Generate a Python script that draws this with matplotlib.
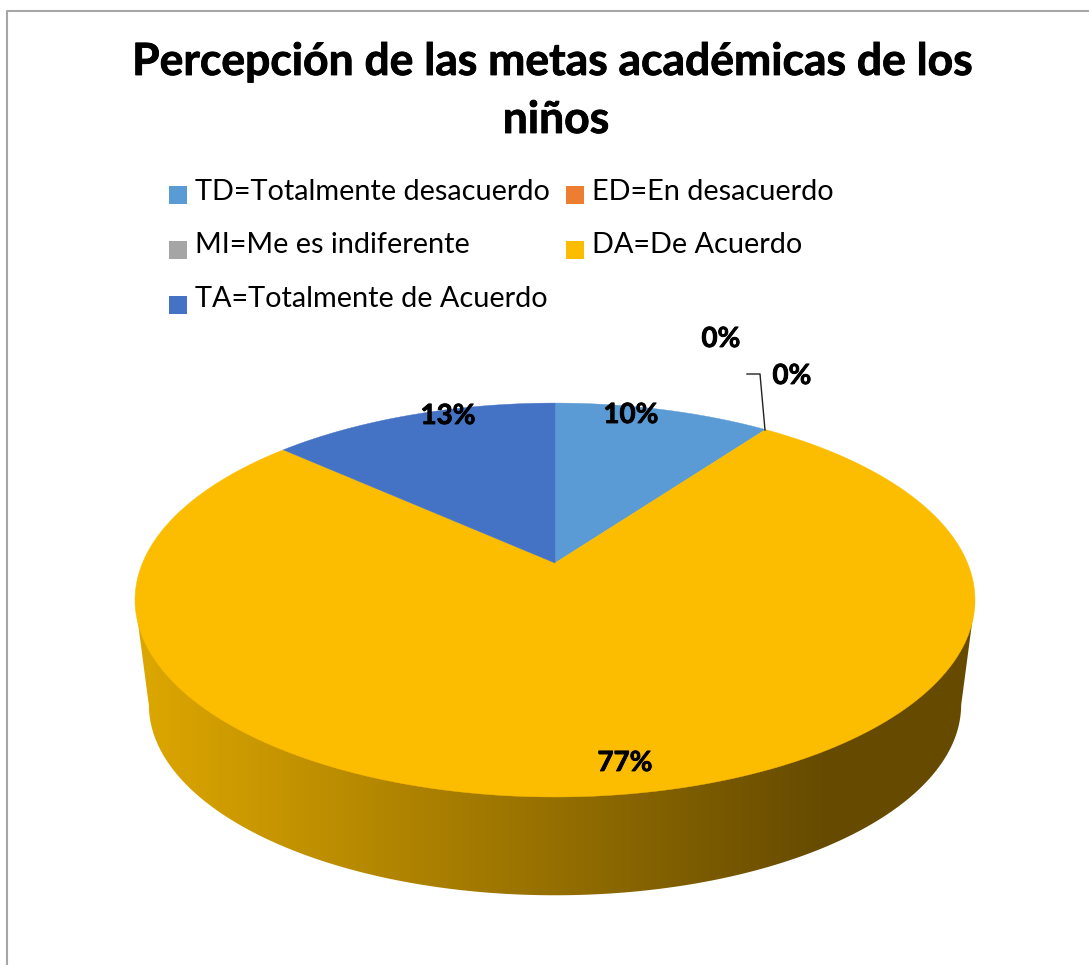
import numpy as np
from matplotlib import pyplot as plt
from matplotlib import patheffects
from matplotlib.colors import LinearSegmentedColormap
from matplotlib.patches import Rectangle

plt.rcParams['font.family'] = ['Lato', 'DejaVu Sans']

title_lines = ['Percepción de las metas académicas de los', 'niños']
categories = ['TD=Totalmente desacuerdo', 'ED=En desacuerdo', 'MI=Me es indiferente',
              'DA=De Acuerdo', 'TA=Totalmente de Acuerdo']
values = [10, 0, 0, 76.7, 13.3]
value_labels = ['10%', '0%', '0%', '77%', '13%']
colors = ['#5B9BD5', '#ED7D31', '#A5A5A5', '#FCBD00', '#4472C4']


def project(theta, scale=1.0, center_y=563.0):
    """Perspective view of the pie disc, theta is clockwise from 12 o'clock"""
    k = 0.188
    u = np.sin(theta)
    v = np.cos(theta)
    x = 555 + scale * 412.5 * u / (1 + k * v)
    y = center_y - scale * 190 * v / (1 + k * v)
    return x, y


fig = plt.figure(figsize=(10.89, 9.65), dpi=100)
ax = fig.add_axes([0, 0, 1, 1])
ax.set_xlim(0, 1089)
ax.set_ylim(965, 0)
ax.axis('off')

# chart frame, only left and top are inside the crop
ax.plot([6.5, 6.5, 1089], [965, 11, 11], color='#A6A6A6', lw=1.5)

# side wall with the horizontal gradient
t = np.linspace(0, 2 * np.pi, 721)
top_x, top_y = project(t)
low_x, low_y = project(t, scale=0.967, center_y=669.0)
top_l, top_r = np.argmin(top_x), np.argmax(top_x)
low_l, low_r = np.argmin(low_x), np.argmax(low_x)
low_idx = np.arange(low_r, low_l + 1)
wall_x = np.r_[top_x[top_l], low_x[low_idx][::-1], top_x[top_r]]
wall_y = np.r_[top_y[top_l], low_y[low_idx][::-1], top_y[top_r]]
wall = ax.fill(wall_x, wall_y, color='none', lw=0)[0]
cmap = LinearSegmentedColormap.from_list('wall', ['#DCA600', '#654A00'])
grad = np.clip((np.linspace(135, 975, 840) - 148) / (830 - 148), 0, 1).reshape(1, -1)
img = ax.imshow(grad, extent=(135, 975, 900, 590), aspect='auto', cmap=cmap, vmin=0, vmax=1)
img.set_clip_path(wall)
ax.set_xlim(0, 1089)
ax.set_ylim(965, 0)

# top of the pie, slices go clockwise from 12 o'clock
edges = np.r_[0, np.cumsum(values)] / np.sum(values) * 2 * np.pi
for i in range(len(values)):
    if values[i] == 0:
        continue
    a = np.linspace(edges[i], edges[i + 1], 300)
    x, y = project(a)
    ax.fill(np.r_[555, x], np.r_[563, y], color=colors[i], lw=0.3)

# leader line of the second 0%
ax.plot([765, 760, 747], [430, 374, 374], color='#222222', lw=1)

# data labels
thick = [patheffects.withStroke(linewidth=0.6, foreground='black')]
label_x = [631, 721, 792, 625, 448]
label_y = [415, 339, 376, 763, 416]
for i in range(len(values)):
    ax.text(label_x[i], label_y[i], value_labels[i], fontsize=20, fontweight='bold',
            ha='center', va='center', color='black', path_effects=thick)

# legend
legend_x = [169, 566, 169, 566, 169]
legend_y = [186, 186, 241, 241, 296]
text_x = [195, 592, 195, 592, 195]
text_y = [200, 200, 253, 253, 307]
for i in range(len(categories)):
    ax.add_patch(Rectangle((legend_x[i], legend_y[i]), 18, 18, color=colors[i], lw=0))
    ax.text(text_x[i], text_y[i], categories[i], fontsize=20.8,
            ha='left', va='baseline', color='black')

# title
ax.text(553, 75, title_lines[0], fontsize=32, fontweight='bold', ha='center', va='baseline',
        path_effects=thick)
ax.text(556, 133, title_lines[1], fontsize=32, fontweight='bold', ha='center', va='baseline',
        path_effects=thick)

plt.savefig('out.png', dpi=100)
